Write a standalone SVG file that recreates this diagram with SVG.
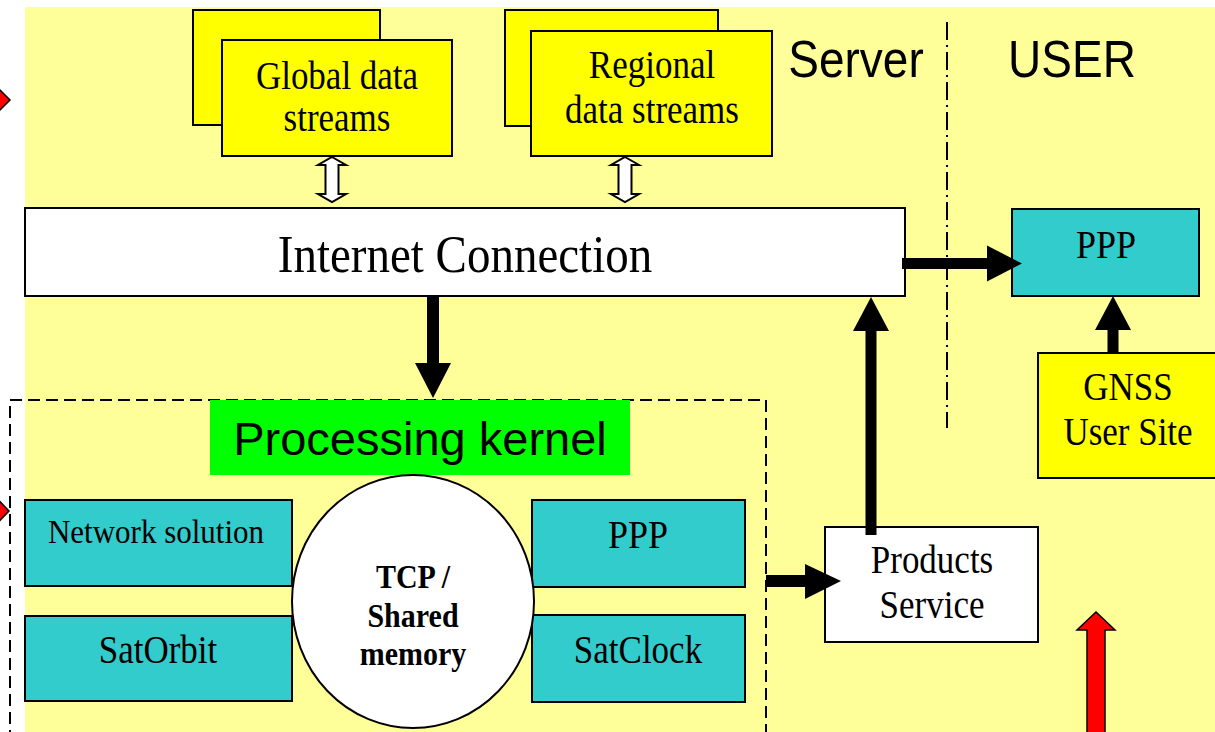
<svg xmlns="http://www.w3.org/2000/svg" width="1215" height="732" viewBox="0 0 1215 732">
  <style>
    .serif { font-family: "Liberation Serif", "Times New Roman", serif; fill: #000; text-anchor: middle; }
    .sans { font-family: "Liberation Sans", Arial, sans-serif; fill: #000; text-anchor: middle; }
    .bold { font-weight: bold; }
    .box { stroke: #000; stroke-width: 2; }
    .yellow { fill: #FFFF00; }
    .teal { fill: #33CCCC; }
    .white { fill: #FFFFFF; }
    .blk { fill: #000; }
    .red { fill: #FF0000; stroke: #000; stroke-width: 1.5; }
    .dbl { fill: #FFFFFF; stroke: #000; stroke-width: 2; }
  </style>

  <!-- page background -->
  <rect x="0" y="0" width="1215" height="732" fill="#FFFFFF"/>
  <rect x="25" y="7" width="1190" height="725" fill="#FFFF99"/>

  <!-- server / user divider -->
  <line x1="947" y1="22" x2="947" y2="428" stroke="#000" stroke-width="2" stroke-dasharray="18 5 2 5"/>
  <g id="label-server"><text class="sans" font-size="46" transform="translate(856 77) scale(1 1.12)">Server</text></g>
  <g id="label-user"><text class="sans" font-size="46" transform="translate(1072 77) scale(1 1.12)">USER</text></g>

  <!-- processing kernel boundary -->
  <rect id="kernel-boundary" x="10" y="400" width="756" height="360" fill="none" stroke="#000" stroke-width="2" stroke-dasharray="12 6"/>

  <g id="global-streams">
    <rect class="box yellow" x="193" y="10" width="187" height="115"/>
    <rect class="box yellow" x="222" y="40" width="230" height="116"/>
    <text class="serif" font-size="35" transform="translate(337 89) scale(1 1.12)">Global data</text>
    <text class="serif" font-size="35" transform="translate(337 131) scale(1 1.12)">streams</text>
  </g>

  <g id="regional-streams">
    <rect class="box yellow" x="505" y="10" width="213" height="116"/>
    <rect class="box yellow" x="531" y="31" width="241" height="125"/>
    <text class="serif" font-size="35" transform="translate(652 78) scale(1 1.12)">Regional</text>
    <text class="serif" font-size="35" transform="translate(652 123) scale(1 1.12)">data streams</text>
  </g>

  <g id="internet">
    <rect class="box white" x="25" y="208" width="880" height="88"/>
    <text class="serif" font-size="47" transform="translate(465 272) scale(1 1.12)">Internet Connection</text>
  </g>

  <g id="user-ppp">
    <rect class="box teal" x="1012" y="209" width="187" height="87"/>
    <text class="serif" font-size="36" transform="translate(1106 258) scale(1 1.12)">PPP</text>
  </g>

  <g id="gnss-site">
    <rect class="box yellow" x="1038" y="353" width="190" height="125"/>
    <text class="serif" font-size="35" transform="translate(1128 400) scale(1 1.12)">GNSS</text>
    <text class="serif" font-size="35" transform="translate(1128 445) scale(1 1.12)">User Site</text>
  </g>

  <g id="processing-kernel">
    <rect x="210" y="400" width="420" height="75" fill="#00FF00"/>
    <text class="sans" font-size="47" transform="translate(420 455) scale(1 1.0)">Processing kernel</text>
  </g>

  <g id="network-solution">
    <rect class="box teal" x="25" y="500" width="267" height="86"/>
    <text class="serif" font-size="31" transform="translate(156 543) scale(1 1.12)">Network solution</text>
  </g>

  <g id="sat-orbit">
    <rect class="box teal" x="25" y="616" width="267" height="85"/>
    <text class="serif" font-size="35" transform="translate(158 663) scale(1 1.12)">SatOrbit</text>
  </g>

  <g id="kernel-ppp">
    <rect class="box teal" x="532" y="500" width="213" height="87"/>
    <text class="serif" font-size="36" transform="translate(638 548) scale(1 1.12)">PPP</text>
  </g>

  <g id="sat-clock">
    <rect class="box teal" x="532" y="615" width="213" height="87"/>
    <text class="serif" font-size="35" transform="translate(638 663) scale(1 1.12)">SatClock</text>
  </g>

  <g id="shared-memory">
    <ellipse class="box white" cx="413" cy="601.5" rx="121" ry="126.5"/>
    <text class="serif bold" font-size="30" transform="translate(413 588) scale(1 1.12)">TCP /</text>
    <text class="serif bold" font-size="30" transform="translate(413 627) scale(1 1.12)">Shared</text>
    <text class="serif bold" font-size="30" transform="translate(413 665) scale(1 1.12)">memory</text>
  </g>

  <g id="products-service">
    <rect class="box white" x="825" y="527" width="213" height="115"/>
    <text class="serif" font-size="35" transform="translate(932 573) scale(1 1.12)">Products</text>
    <text class="serif" font-size="35" transform="translate(932 618) scale(1 1.12)">Service</text>
  </g>

  <g id="connectors">
    <!-- two-way links from the data streams -->
    <polygon class="dbl" points="332,157 346,165 338.5,165 338.5,194 346,194 332,202 318,194 325.5,194 325.5,165 318,165"/>
    <polygon class="dbl" points="625,157 639,165 631.5,165 631.5,194 639,194 625,202 611,194 618.5,194 618.5,165 611,165"/>

    <!-- internet to kernel -->
    <polygon class="blk" points="427,296 439,296 439,363 451,363 433,398 415,363 427,363"/>
    <!-- internet to user PPP -->
    <polygon class="blk" points="902,258 987,258 987,245.5 1022,263.5 987,281.5 987,269 902,269"/>
    <!-- GNSS site to user PPP -->
    <polygon class="blk" points="1107.5,353 1118.5,353 1118.5,330 1131,330 1113,296 1095,330 1107.5,330"/>
    <!-- kernel to products -->
    <polygon class="blk" points="766,575 805,575 805,564 841,581 805,599 805,587 766,587"/>
    <!-- products to internet -->
    <polygon class="blk" points="865.5,535 876.5,535 876.5,331 889,331 871,297 853,331 865.5,331"/>

    <!-- incoming red arrows at the edges -->
    <polygon class="red" points="-20,70 10,100 -20,130"/>
    <polygon class="red" points="-20,481 9,511 -20,541"/>
    <polygon class="red" points="1087,740 1087,630 1077,630 1096,612 1115,630 1105,630 1105,740"/>
  </g>
</svg>
